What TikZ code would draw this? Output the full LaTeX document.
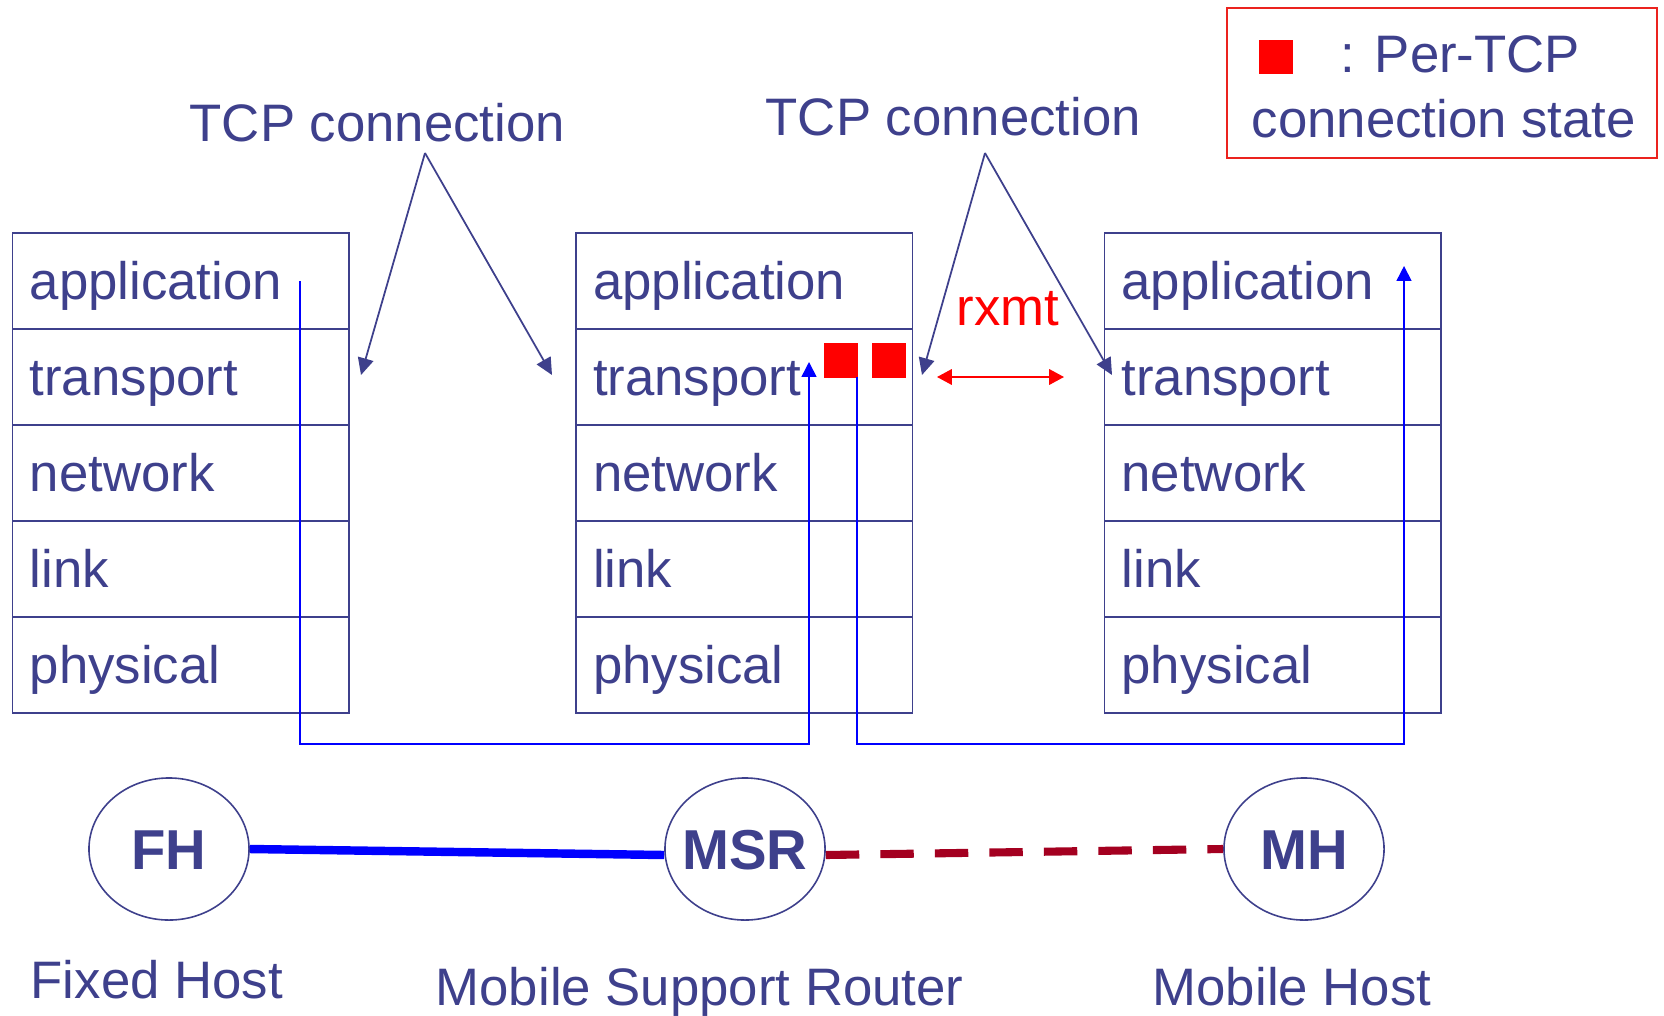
\documentclass[tikz,border=0pt]{standalone}
\usepackage{fontspec}
\setmainfont{Liberation Sans}
\usetikzlibrary{arrows.meta,shapes.geometric,calc}
\definecolor{navy}{RGB}{62,64,140}
\definecolor{linkred}{RGB}{164,0,32}
\definecolor{legred}{RGB}{235,35,30}
\begin{document}
\begin{tikzpicture}[x=0.01cm,y=-0.01cm,
  txt/.style={inner sep=0pt, font=\fontsize{15}{18}\selectfont, text=navy},
  cell/.style={draw=navy, line width=0.45pt, minimum width=3.365cm, minimum height=0.96cm,
    text width=3.02cm, inner xsep=0.17cm, inner ysep=0pt, align=left,
    text height=0.38cm, text depth=0pt, anchor=north west,
    font=\fontsize{15}{18}\selectfont, text=navy},
  flow/.style={draw=blue, line width=0.45pt, -{Triangle[width=4.2pt,length=4.2pt]}},
  tcparrow/.style={draw=navy, line width=0.5pt, -{Triangle[width=4.5pt,length=4.8pt]}},
  statesq/.style={fill=red, draw=none, minimum size=0.34cm, inner sep=0pt},
  host/.style={ellipse, draw=navy, line width=0.45pt, minimum width=1.60cm, minimum height=1.42cm,
    inner sep=0pt},
  hostlbl/.style={inner sep=0pt, font=\bfseries\fontsize{16}{18}\selectfont, text=navy,
    text height=0.41cm, text depth=0pt}]
\useasboundingbox (0,0) rectangle (1664,1015);
\fill[white] (0,0) rectangle (1664,1015);

% protocol stacks
\foreach \s/\xx in {f/11.7, m/575, h/1103.6} {
  \foreach \t [count=\i] in {application,transport,network,link,physical} {
    \node[cell] (\s\i) at (\xx, {232+96*(\i-1)}) {\t};
  }
}

% per-TCP state squares
\node[statesq] (s1) at (841,360.5) {};
\node[statesq] (s2) at (889,360.5) {};

% data flow paths
\coordinate (bot) at (0,744);
\coordinate (p1s) at (300,281);
\coordinate (p1e) at (809,362);
\draw[flow] (p1s) -- (p1s |- bot) -| (p1e);
\coordinate (p2s) at (857,377);
\coordinate (p2e) at (1404,266);
\draw[flow] (p2s) -- (p2s |- bot) -| (p2e);

% rxmt
\coordinate (ra) at (937,377);
\coordinate (rb) at (1064,377);
\draw[red, line width=0.5pt, {Triangle[width=4.4pt,length=4.2pt]}-{Triangle[width=4.4pt,length=4.2pt]}] (ra) -- (rb);
\node[txt, text=red, anchor=base] (rxmt) at (1008,325) {rxmt};

% TCP connection labels and arrows
\node[txt, anchor=base west] (tcp1) at (189,141) {TCP connection};
\node[txt, anchor=base west] (tcp2) at (765,135) {TCP connection};
\coordinate (a1) at (425,153);
\coordinate (a1l) at (361,375);
\coordinate (a1r) at (552,375);
\coordinate (a2) at (985,153);
\coordinate (a2l) at (922,375);
\coordinate (a2r) at (1112,375);
\draw[tcparrow] (a1) -- (a1l);
\draw[tcparrow] (a1) -- (a1r);
\draw[tcparrow] (a2) -- (a2l);
\draw[tcparrow] (a2) -- (a2r);

% legend
\node[draw=legred, line width=0.6pt, minimum width=4.30cm, minimum height=1.50cm, inner sep=0pt] (legend) at (1442,83) {};
\node[statesq] (legsq) at (1276,57) {};
\node[txt, anchor=base west] (legt1) at (1340,72) {: Per-TCP};
\node[txt, anchor=base west] (legt2) at (1251,137) {connection state};

% hosts
\node[host, label={[hostlbl]center:FH}] (fhn) at (169,849) {};
\node[host, label={[hostlbl]center:MSR}] (msrn) at (745,849) {};
\node[host, label={[hostlbl]center:MH}] (mhn) at (1304,849) {};
\draw[blue, line width=2.4pt] (fhn.east) -- ($(msrn.west)+(0,6)$);
\draw[linkred, line width=2.3pt, dash pattern=on 9.5pt off 6pt] ($(msrn.east)+(0,6)$) -- (mhn.west);

\node[txt, anchor=base west] (fhl) at (30,998) {Fixed Host};
\node[txt, anchor=base west] (msrl) at (435,1005) {Mobile Support Router};
\node[txt, anchor=base west] (mhl) at (1152,1005) {Mobile Host};
\end{tikzpicture}
\end{document}
